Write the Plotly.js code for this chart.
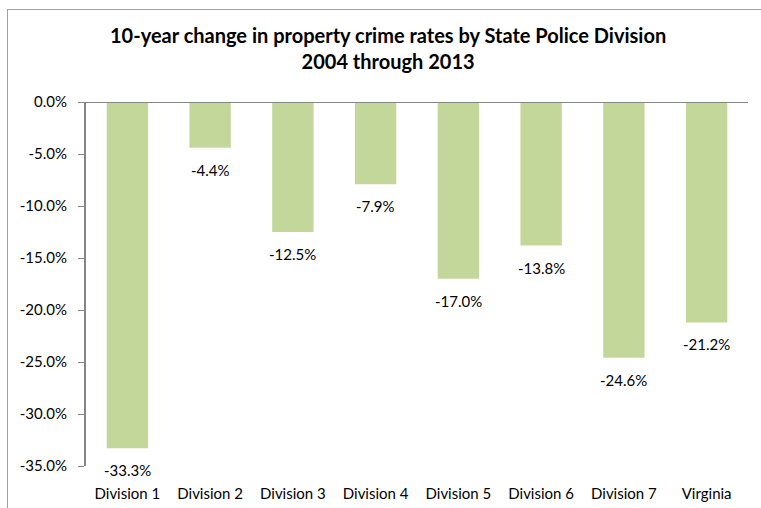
<!DOCTYPE html>
<html>
<head>
<meta charset="utf-8">
<script src="https://cdn.plot.ly/plotly-3.0.1.min.js"></script>
<style>
html,body{margin:0;padding:0;background:#fff;overflow:hidden;width:761px;height:508px;}
#wrap{position:relative;width:761px;height:508px;}
#chart{position:absolute;left:0;top:0;width:761px;height:508px;}
#frame{position:absolute;left:7px;top:9px;width:753px;height:498px;border-left:1.5px solid #a0a0a0;border-top:1.5px solid #a0a0a0;pointer-events:none;}
</style>
</head>
<body>
<div id="wrap"><div id="frame"></div><div id="chart"></div></div>
<script>
const categories = ["Division 1","Division 2","Division 3","Division 4","Division 5","Division 6","Division 7","Virginia"];
const changePct = [-33.3, -4.4, -12.5, -7.9, -17.0, -13.8, -24.6, -21.2];
const yTickVals = [0, -5, -10, -15, -20, -25, -30, -35];
const yTickText = ["0.0%","-5.0%","-10.0%","-15.0%","-20.0%","-25.0%","-30.0%","-35.0%"];

const font = "Lato, 'Open Sans', sans-serif";
const trace = {
  type: 'bar',
  x: categories,
  y: changePct,
  marker: {color: '#c4d79b'},
  cliponaxis: false,
  hoverinfo: 'none'
};
const labelAnnotations = categories.map((c, i) => ({
  x: c, y: changePct[i], xref: 'x', yref: 'y',
  text: changePct[i].toFixed(1) + '%',
  showarrow: false, xanchor: 'center', yanchor: 'top', yshift: -11,
  font: {family: font, size: 15, color: '#000'}
}));
const layout = {
  width: 761, height: 508,
  margin: {l: 86, r: 13, t: 102, b: 42},
  paper_bgcolor: 'rgba(0,0,0,0)', plot_bgcolor: 'rgba(0,0,0,0)',
  showlegend: false,
  bargap: 0.5,
  title: {
    text: '<b>10-year change in property crime rates by State Police Division<br>2004 through 2013</b>',
    font: {family: font, size: 20, color: '#000'},
    x: 0.51, xref: 'container', xanchor: 'center',
    y: 0.915, yref: 'container', yanchor: 'middle'
  },
  xaxis: {
    showline: false, showgrid: false, zeroline: false,
    ticks: 'outside', ticklen: 14, tickcolor: 'rgba(0,0,0,0)',
    tickfont: {family: font, size: 15, color: '#000'},
    fixedrange: true
  },
  yaxis: {
    range: [-35, 0], tickvals: yTickVals, ticktext: yTickText,
    showline: true, linecolor: '#868686', linewidth: 2,
    ticks: 'outside', ticklen: 6, tickcolor: '#868686', tickwidth: 1,
    showgrid: false, zeroline: false,
    tickfont: {family: font, size: 15, color: '#000'},
    ticklabelstandoff: 8,
    fixedrange: true
  },
  annotations: labelAnnotations,
  shapes: [
    {type: 'line', xref: 'paper', yref: 'y', x0: 0, x1: 1, y0: 0, y1: 0,
     line: {color: '#868686', width: 2}}
  ]
};
Plotly.newPlot('chart', [trace], layout, {displayModeBar: false, staticPlot: true});
</script>
</body>
</html>
